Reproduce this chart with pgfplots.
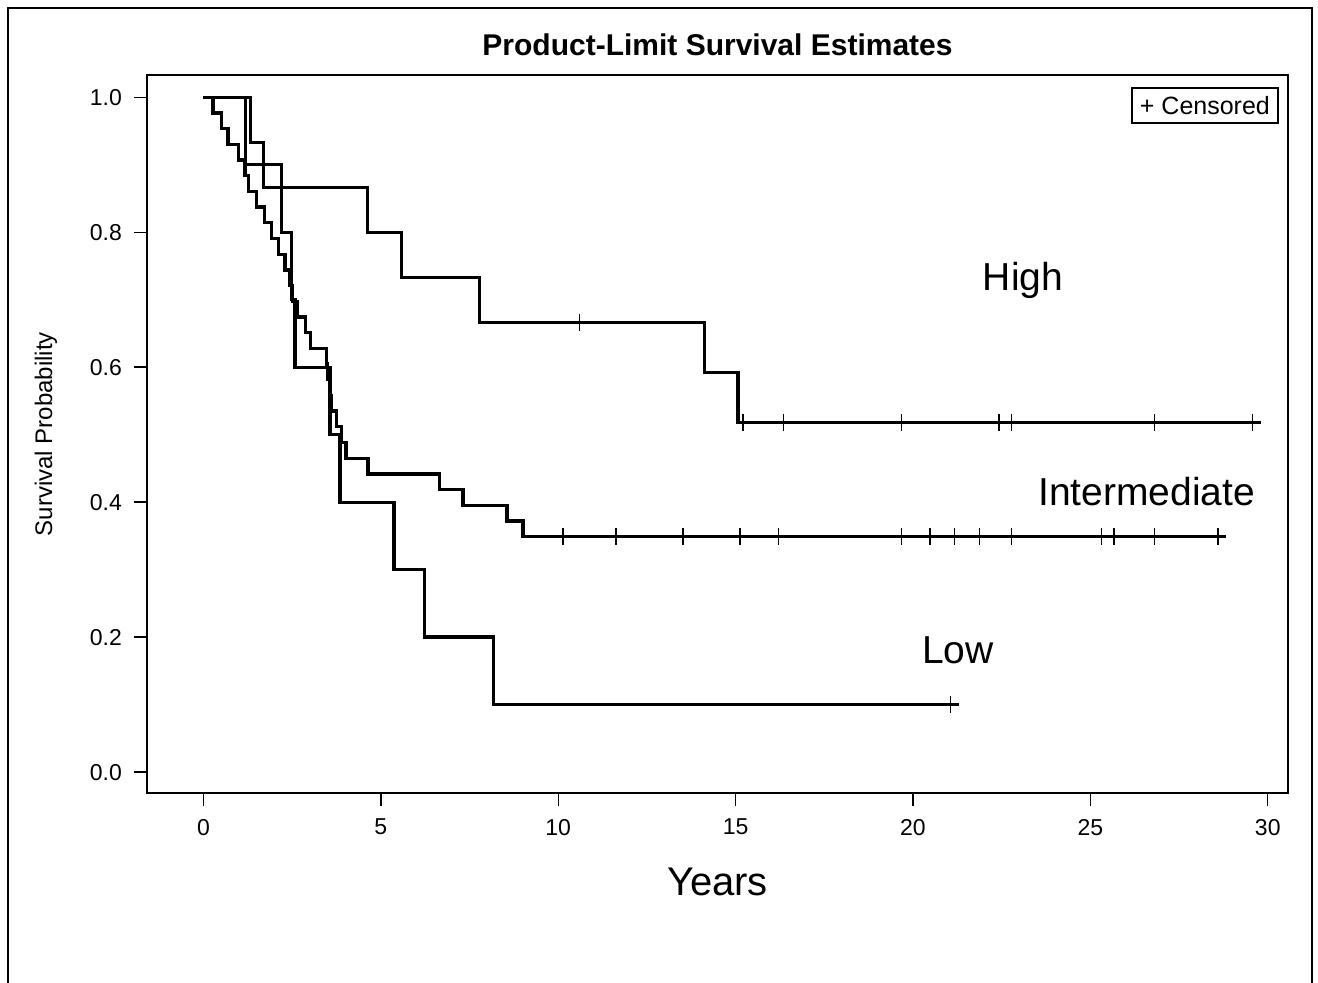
\documentclass[border=0pt]{standalone}
\usepackage{fontspec}
\setmainfont{Liberation Sans}
\usepackage{pgfplots}
\pgfplotsset{compat=1.18}
\begin{document}
\begin{tikzpicture}
\useasboundingbox (0pt,0pt) rectangle (659pt,491pt);
\draw[line width=1pt] (4pt,-3pt) -- (4pt,487pt) -- (656pt,487pt) -- (656pt,-3pt);
\begin{axis}[
  at={(73.5pt,94.5pt)}, anchor=south west,
  scale only axis, width=570.5pt, height=359pt,
  xmin=-1.59, xmax=30.57, ymin=-0.031, ymax=1.033,
  axis line style={line width=1pt},
  xtick={0,5,10,15,20,25,30}, ytick={0,0.2,0.4,0.6,0.8,1},
  xtick pos=bottom, ytick pos=left,
  tick align=outside, major tick length=6.5pt,
  tick style={line width=0.7pt, black},
  /pgf/number format/assume math mode=true,
  yticklabel style={/pgf/number format/fixed, /pgf/number format/fixed zerofill, /pgf/number format/precision=1, font=\fontsize{11.5}{13}\selectfont, xshift=-2.5pt},
  xticklabel style={font=\fontsize{11.5}{13}\selectfont, yshift=-3pt},
  title={Product-Limit Survival Estimates},
  title style={font=\bfseries\fontsize{15}{18}\selectfont, at={(axis description cs:0.5,1)}, anchor=base, yshift=3.5pt},
  xlabel={Years},
  xlabel style={font=\fontsize{20}{24}\selectfont, at={(axis description cs:0.5,0)}, anchor=base, yshift=-51pt},
  ylabel={Survival Probability},
  ylabel style={font=\fontsize{12}{14}\selectfont, at={(axis description cs:-0.0885,0.5)}, anchor=center},
  clip=false,
]
% High (n=15)
\addplot[const plot, line width=1.65pt, black] coordinates {
(0,1) (1.32,0.9333) (1.70,0.8667) (4.63,0.8) (5.58,0.7333) (7.79,0.6667)
(14.13,0.5926) (15.07,0.5185) (29.80,0.5185)};
% Intermediate (n=43)
\addplot[const plot, line width=1.65pt, black] coordinates {
(0,1) (0.27,0.9767) (0.51,0.9535) (0.69,0.9302) (0.98,0.9070) (1.17,0.8837)
(1.28,0.8605) (1.50,0.8372) (1.73,0.8140) (1.92,0.7907) (2.11,0.7674)
(2.30,0.7442) (2.42,0.7209) (2.52,0.6977) (2.65,0.6744) (2.88,0.6512)
(3.02,0.6279) (3.47,0.6047) (3.50,0.5814) (3.55,0.5581) (3.62,0.5349)
(3.75,0.5116) (3.90,0.4884) (4.02,0.4651) (4.64,0.4419) (6.66,0.4186)
(7.32,0.3953) (8.56,0.3721) (9.01,0.3488) (28.81,0.3488)};
% Low (n=10)
\addplot[const plot, line width=1.65pt, black] coordinates {
(0,1) (1.18,0.9) (2.21,0.8) (2.49,0.7) (2.58,0.6) (3.57,0.5) (3.85,0.4)
(5.37,0.3) (6.24,0.2) (8.17,0.1) (21.30,0.1)};
% censored marks
\addplot[only marks, mark=|, mark size=4.2pt, mark options={line width=0.75pt, black}] coordinates {
(10.60,0.6667) (15.21,0.5185) (16.35,0.5185) (19.67,0.5185) (22.43,0.5185)
(22.77,0.5185) (26.80,0.5185) (29.57,0.5185)};
\addplot[only marks, mark=|, mark size=4.2pt, mark options={line width=0.75pt, black}] coordinates {
(10.14,0.3488) (11.63,0.3488) (13.52,0.3488) (15.13,0.3488) (16.21,0.3488)
(19.67,0.3488) (20.48,0.3488) (21.17,0.3488) (21.87,0.3488) (22.77,0.3488)
(25.32,0.3488) (25.66,0.3488) (26.80,0.3488) (28.59,0.3488)};
\addplot[only marks, mark=|, mark size=4.2pt, mark options={line width=0.75pt, black}] coordinates {
(21.06,0.1)};
\node[font=\fontsize{19.5}{23}\selectfont] at (axis cs:23.1,0.729) {High};
\node[font=\fontsize{19.5}{23}\selectfont] at (axis cs:26.59,0.415) {Intermediate};
\node[font=\fontsize{19.5}{23}\selectfont] at (axis cs:21.27,0.181) {Low};
\node[draw, line width=0.9pt, anchor=north east, font=\fontsize{12.5}{15}\selectfont, inner xsep=4pt, inner ysep=2.5pt, minimum height=17.5pt] at (axis cs:30.31,1.015) {+ Censored};
\end{axis}
\end{tikzpicture}
\end{document}
